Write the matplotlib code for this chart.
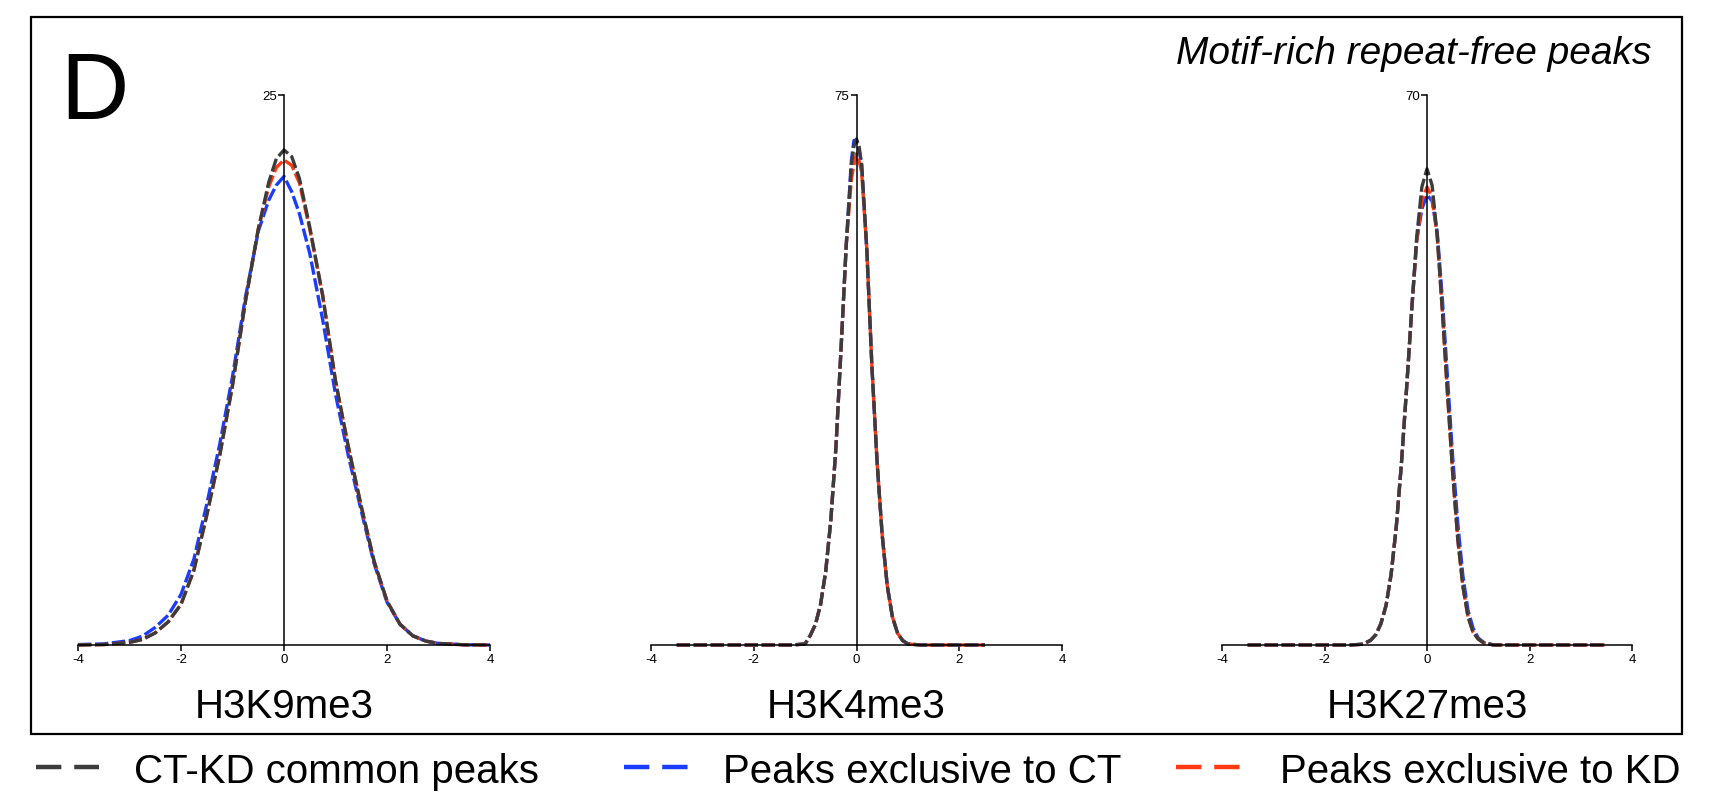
import matplotlib
matplotlib.use('Agg')
import matplotlib.pyplot as plt
from matplotlib.lines import Line2D
from matplotlib.patches import Rectangle

plt.rcParams['font.family'] = ['Liberation Sans', 'DejaVu Sans']

# --- values -----------------------------------------------------------
MARKS = ['H3K9me3', 'H3K4me3', 'H3K27me3']
Y_TOP = [25, 75, 70]

k9_x = [-4, -3.5, -3, -2.75, -2.5, -2.25, -2, -1.75, -1.5, -1.25, -1, -0.75, -0.5,
        -0.3, -0.15, 0, 0.15, 0.3, 0.5, 0.75, 1, 1.25, 1.5, 1.75, 2, 2.25, 2.5,
        2.75, 3, 3.5, 4]
k9_common = [0.0, 0.02, 0.12, 0.25, 0.55, 1.05, 1.85, 3.4, 5.9, 8.6, 11.8, 15.6, 18.9,
             21.0, 22.1, 22.5, 22.2, 21.2, 19.0, 15.9, 12.0, 9.0, 6.3, 3.8, 2.0, 0.95,
             0.42, 0.18, 0.07, 0.01, 0.0]
k9_ct = [0.02, 0.05, 0.2, 0.4, 0.8, 1.35, 2.3, 3.9, 6.4, 9.1, 12.2, 15.8, 18.8,
         20.2, 20.9, 21.3, 20.6, 19.6, 17.8, 14.8, 11.4, 8.6, 6.1, 3.7, 1.95, 0.95,
         0.42, 0.18, 0.07, 0.01, 0.0]
k9_kd = [0.0, 0.02, 0.12, 0.25, 0.55, 1.05, 1.85, 3.4, 5.9, 8.6, 11.8, 15.6, 18.9,
         20.8, 21.7, 22.05, 21.8, 21.0, 18.9, 15.9, 12.0, 9.0, 6.3, 3.8, 2.0, 0.95,
         0.42, 0.18, 0.07, 0.01, 0.0]

k4_x = [-3.5, -2, -1.25, -1, -0.9, -0.8, -0.7, -0.6, -0.5, -0.4, -0.3, -0.2, -0.1,
        -0.05, 0, 0.05, 0.1, 0.2, 0.3, 0.4, 0.5, 0.6, 0.7, 0.8, 0.9, 1.0, 1.25, 2.5]
k4_common = [0, 0, 0, 0.15, 1.3, 2.8, 5.5, 10, 17, 27, 40.5, 54.5, 65.5,
             68, 69, 68, 65.5, 54, 38, 25, 15, 8, 3.8, 1.6, 0.6, 0.15, 0, 0]
k4_ct = [0, 0, 0, 0.15, 1.3, 2.8, 5.5, 10, 17, 27, 40.5, 54.5, 66,
         68.8, 68.8, 67.5, 65.5, 54, 38, 25, 15, 8, 3.8, 1.6, 0.6, 0.15, 0, 0]
k4_kd = [0, 0, 0, 0.15, 1.3, 2.8, 5.5, 10, 17, 27, 40.5, 54.5, 63.5,
         65.5, 67, 66, 64.5, 54, 38, 25, 15, 8, 3.8, 1.6, 0.6, 0.15, 0, 0]

k27_x = [-3.5, -1.5, -1.25, -1.1, -1.0, -0.9, -0.8, -0.7, -0.6, -0.5, -0.4, -0.3,
         -0.2, -0.1, 0, 0.1, 0.2, 0.3, 0.4, 0.5, 0.6, 0.7, 0.8, 0.9, 1.0, 1.1, 1.3, 3.5]
k27_common = [0, 0, 0.1, 0.6, 1.3, 2.7, 5.0, 9.0, 15, 23, 32.5, 42.5,
              52, 58.3, 60.6, 58.5, 52, 42.5, 32, 22, 13.5, 7.5, 3.6, 1.6, 0.75, 0.3, 0, 0]
k27_ct = [0, 0, 0.1, 0.6, 1.3, 2.7, 5.0, 9.0, 15, 23, 32.5, 42.5,
          51.5, 55.5, 57.3, 56.5, 52.5, 44, 34, 24, 15.5, 8.8, 4.4, 2.1, 0.9, 0.35, 0, 0]
k27_kd = [0, 0, 0.1, 0.6, 1.3, 2.7, 5.0, 9.0, 15, 23, 32.5, 42.5,
          51.5, 56.5, 58.3, 57, 52, 42.5, 32, 22, 13.5, 7.5, 3.6, 1.6, 0.75, 0.3, 0, 0]

X = [k9_x, k4_x, k27_x]
COMMON = [k9_common, k4_common, k27_common]
CT = [k9_ct, k4_ct, k27_ct]
KD = [k9_kd, k4_kd, k27_kd]

LABELS = ['CT-KD common peaks', 'Peaks exclusive to CT', 'Peaks exclusive to KD']
C_COMMON = '#3c3c3c'
C_CT = '#1a3cff'
C_KD = '#ff3a12'

# --- figure --------------------------------------------------------------
W, H = 1726, 798
fig = plt.figure(figsize=(W / 100, H / 100), dpi=100)

# axes boxes in pixel units (left, right) of the x range -4..4
ax_px = [(78, 490), (651, 1062), (1222, 1632)]
y_base, y_top = 645, 95

for i, (x0, x1) in enumerate(ax_px):
    ax = fig.add_axes([x0 / W, (H - y_base) / H, (x1 - x0) / W, (y_base - y_top) / H])
    for ys, col in [(CT[i], C_CT), (KD[i], C_KD), (COMMON[i], C_COMMON)]:
        ax.plot(X[i], ys, color=col, lw=2.4, dashes=(4, 1.1), solid_capstyle='butt',
                clip_on=False)
    ax.set_xlim(-4, 4)
    ax.set_ylim(0, Y_TOP[i])
    ax.set_xticks([-4, -2, 0, 2, 4])
    ax.set_xticklabels(['-4', '-2', '0', '2', '4'])
    ax.set_yticks([Y_TOP[i]])
    ax.spines[['top', 'right']].set_visible(False)
    ax.spines['left'].set_position(('data', 0))
    for s in ('left', 'bottom'):
        ax.spines[s].set_linewidth(1.1)
        ax.spines[s].set_color('black')
    ax.tick_params(axis='x', length=4, width=1.1, pad=2.5, labelsize=9.5)
    ax.tick_params(axis='y', length=4, width=1.1, pad=1, labelsize=9.5)
    ax.patch.set_visible(False)
    xc = (x0 + x1) / 2 / W
    fig.text(xc, (H - 718) / H, MARKS[i], ha='center', va='baseline', fontsize=29)

# outer frame
fig.add_artist(Rectangle((31 / W, (H - 734) / H), (1682 - 31) / W, (734 - 17) / H,
                         transform=fig.transFigure, fill=False, lw=1.6, ec='black'))

fig.text(60 / W, (H - 119) / H, 'D', fontsize=68, ha='left', va='baseline')
fig.text(1651 / W, (H - 64) / H, 'Motif-rich repeat-free peaks', fontsize=28,
         style='italic', ha='right', va='baseline')

# legend below the frame
leg_items = [(36, 99, 134, C_COMMON), (624, 688, 723, C_CT), (1176, 1240, 1280, C_KD)]
for (h0, h1, tx, col), lab in zip(leg_items, LABELS):
    yy = (H - 767) / H
    fig.add_artist(Line2D([h0 / W, h1 / W], [yy, yy], transform=fig.transFigure,
                          color=col, lw=3.2, dashes=(5.7, 2.9), solid_capstyle='butt'))
    fig.text(tx / W, (H - 783) / H, lab, fontsize=29, ha='left', va='baseline')

fig.savefig('out.png', dpi=100)
